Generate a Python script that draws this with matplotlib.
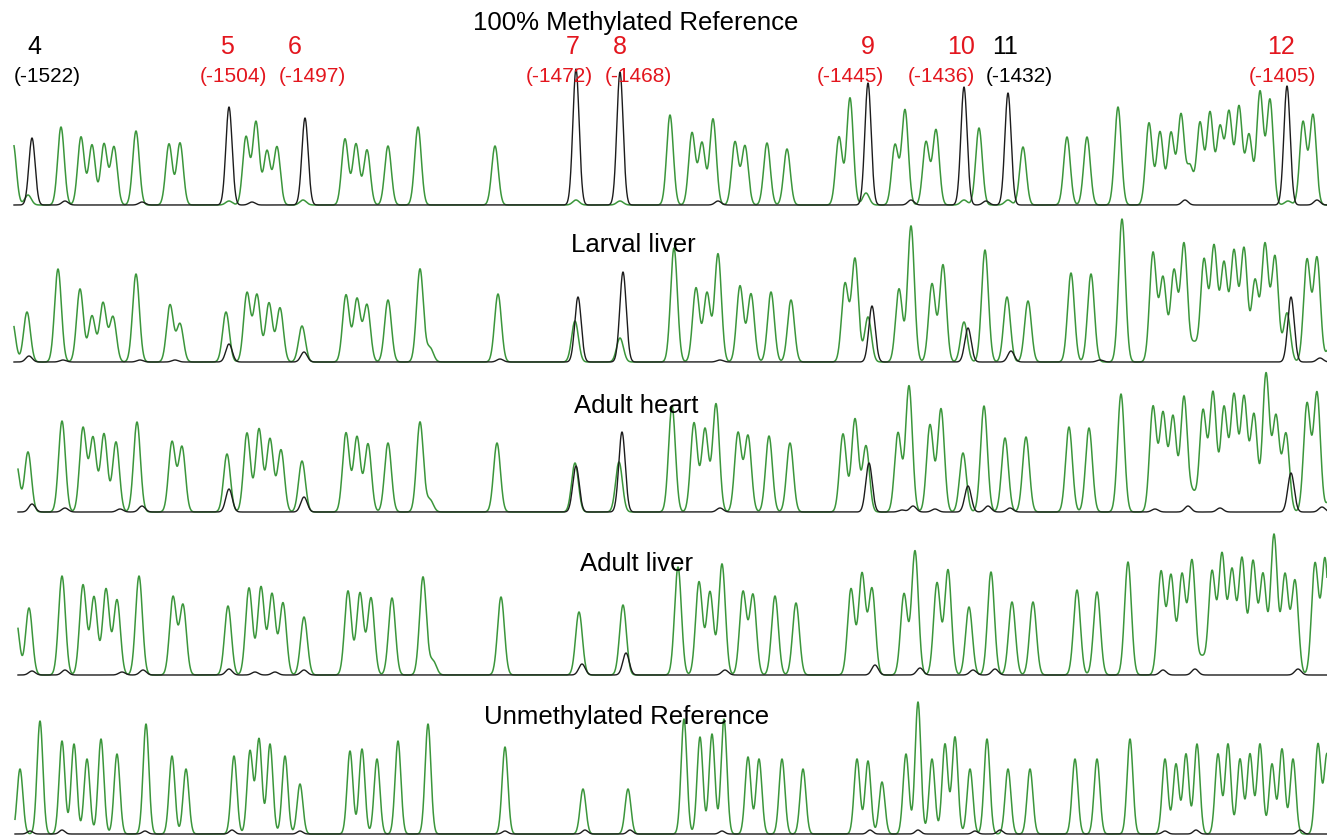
import numpy as np
import matplotlib
matplotlib.use("Agg")
import matplotlib.pyplot as plt

plt.rcParams['font.family'] = ['Liberation Sans', 'DejaVu Sans']

W, H = 1327, 839

# ---------------- data: peak positions (trace position) and heights ----------------
track_names = ["100% Methylated Reference", "Larval liver", "Adult heart",
               "Adult liver", "Unmethylated Reference"]

# Track 1: 100% methylated reference
g1_pos = [13, 28, 61, 81, 92, 104, 114, 136, 169, 180, 229, 246, 256, 267, 277, 303,
          345, 356, 367, 388, 418, 495, 576, 620, 670, 692, 702, 713, 735, 745, 767, 787,
          839, 850, 866, 895, 905, 926, 936, 964, 979, 1008, 1023, 1067, 1087, 1118, 1149,
          1160, 1171, 1181, 1190, 1200, 1210, 1220, 1229, 1239, 1249, 1260, 1270, 1288,
          1303, 1313]
g1_h = [62, 10, 78, 68, 60, 61, 58, 74, 61, 62, 4, 68, 83, 54, 58, 5,
        66, 61, 55, 59, 78, 59, 5, 4, 90, 72, 62, 86, 63, 59, 62, 56,
        68, 107, 12, 60, 95, 63, 75, 5, 77, 5, 58, 68, 68, 98, 82,
        73, 72, 90, 38, 82, 92, 77, 92, 98, 70, 113, 105, 4,
        83, 90]
b1_pos = [32, 65, 142, 229, 252, 305, 576, 620, 718, 868, 911, 964, 986, 1008, 1185,
          1287, 1317]
b1_h = [67, 4, 3, 98, 3, 87, 136, 133, 4, 122, 5, 118, 4, 112, 5, 119, 5]

# Track 2: larval liver
g2_pos = [12, 27, 58, 80, 92, 103, 113, 136, 170, 180, 226, 247, 257, 269, 280, 302,
          346, 357, 367, 388, 420, 430, 498, 575, 620, 674, 696, 707, 718, 740, 751, 771,
          791, 845, 855, 868, 899, 911, 932, 943, 964, 985, 1007, 1028, 1071, 1091, 1122,
          1153, 1163, 1174, 1184, 1194, 1204, 1214, 1224, 1234, 1244, 1255, 1265, 1275,
          1287, 1307, 1317, 1330]
g2_h = [42, 50, 93, 73, 46, 59, 45, 88, 57, 38, 50, 69, 67, 59, 54, 36,
        67, 63, 57, 62, 93, 14, 68, 41, 24, 114, 74, 69, 108, 76, 68, 70,
        62, 78, 103, 45, 73, 136, 78, 97, 40, 112, 65, 61, 89, 88, 143,
        109, 84, 91, 118, 18, 102, 115, 98, 110, 113, 81, 117, 105,
        49, 102, 104, 15]
b2_pos = [29, 63, 140, 175, 229, 304, 500, 578, 623, 720, 872, 968, 1011, 1100, 1291,
          1320]
b2_h = [6, 2, 2, 2, 18, 10, 3, 65, 90, 2, 56, 34, 11, 2, 65, 4]

# Track 3: adult heart
g3_pos = [16, 28, 62, 83, 93, 104, 116, 137, 172, 182, 227, 247, 259, 270, 281, 302,
          346, 357, 368, 388, 420, 430, 497, 575, 619, 672, 694, 705, 716, 738, 748, 769,
          790, 843, 855, 866, 898, 909, 930, 941, 963, 984, 1005, 1026, 1069, 1089, 1121,
          1153, 1163, 1173, 1184, 1193, 1203, 1213, 1224, 1234, 1244, 1254, 1266, 1276,
          1286, 1307, 1317, 1330]
g3_h = [50, 60, 91, 84, 74, 78, 70, 90, 70, 65, 58, 79, 83, 73, 62, 51,
        79, 75, 68, 69, 90, 12, 69, 49, 50, 106, 89, 83, 108, 79, 76, 76,
        69, 78, 93, 66, 79, 126, 87, 103, 59, 106, 74, 75, 85, 84, 118,
        105, 98, 95, 115, 18, 101, 119, 104, 116, 114, 97, 138, 95,
        78, 108, 119, 12]
b3_pos = [32, 65, 120, 142, 229, 304, 576, 622, 720, 869, 902, 913, 935, 968, 988,
          1010, 1155, 1188, 1220, 1291, 1322]
b3_h = [8, 4, 3, 6, 23, 15, 46, 80, 4, 49, 2, 6, 3, 26, 6, 4, 3, 6, 4, 39, 5]

# Track 4: adult liver
g4_pos = [16, 29, 62, 83, 94, 106, 117, 139, 173, 183, 228, 249, 261, 272, 283, 304,
          348, 360, 371, 392, 423, 433, 501, 579, 623, 678, 699, 710, 722, 743, 753, 775,
          796, 851, 862, 872, 904, 915, 937, 948, 969, 991, 1012, 1033, 1077, 1097, 1128,
          1161, 1171, 1182, 1192, 1202, 1212, 1222, 1232, 1242, 1253, 1263, 1274, 1285,
          1295, 1315, 1325]
g4_h = [55, 67, 99, 90, 78, 86, 75, 99, 78, 70, 69, 87, 88, 81, 72, 58,
        84, 82, 77, 77, 98, 14, 78, 63, 70, 108, 93, 83, 111, 83, 80, 79,
        72, 86, 101, 86, 81, 124, 92, 105, 68, 103, 73, 73, 85, 83, 113,
        103, 99, 100, 114, 17, 103, 120, 104, 116, 113, 100, 140, 100,
        94, 111, 116]
b4_pos = [32, 65, 122, 143, 229, 255, 275, 304, 582, 626, 725, 875, 920, 973, 995,
          1163, 1195, 1298]
b4_h = [4, 5, 3, 5, 6, 3, 3, 5, 11, 22, 5, 10, 7, 5, 6, 5, 6, 6]

# Track 5: unmethylated reference
g5_pos = [20, 40, 62, 74, 87, 101, 117, 146, 172, 186, 234, 250, 259, 270, 285, 300,
          350, 362, 377, 398, 428, 505, 583, 628, 684, 700, 712, 724, 748, 759, 782, 803,
          857, 868, 882, 906, 918, 932, 945, 955, 970, 987, 1008, 1030, 1075, 1097, 1130,
          1165, 1176, 1186, 1197, 1218, 1228, 1240, 1250, 1260, 1272, 1282, 1293, 1318,
          1327]
g5_h = [65, 113, 93, 90, 75, 95, 80, 110, 78, 65, 78, 83, 95, 90, 78, 50,
        83, 85, 75, 93, 110, 87, 45, 45, 115, 97, 100, 115, 77, 75, 75, 65,
        75, 73, 52, 80, 132, 75, 90, 97, 65, 95, 65, 65, 75, 75, 95,
        75, 70, 80, 90, 80, 90, 75, 80, 90, 70, 85, 75, 90,
        80]
b5_pos = [30, 62, 145, 232, 300, 505, 585, 630, 722, 870, 918, 975, 1000, 1165, 1196,
          1300]
b5_h = [3, 4, 3, 4, 3, 3, 4, 4, 3, 4, 4, 3, 4, 3, 4, 4]

green_tracks = [(g1_pos, g1_h), (g2_pos, g2_h), (g3_pos, g3_h), (g4_pos, g4_h), (g5_pos, g5_h)]
black_tracks = [(b1_pos, b1_h), (b2_pos, b2_h), (b3_pos, b3_h), (b4_pos, b4_h), (b5_pos, b5_h)]

# CpG site labels
site_nums = ["4", "5", "6", "7", "8", "9", "10", "11", "12"]
site_coords = ["(-1522)", "(-1504)", "(-1497)", "(-1472)", "(-1468)", "(-1445)",
               "(-1436)", "(-1432)", "(-1405)"]
site_methylated = [False, True, True, True, True, True, True, False, True]

# ---------------- layout / style ----------------
baselines = [205, 362, 512, 675, 834]   # pixel rows of track baselines
x_start = [14, 14, 18, 18, 15]
sigmas = [3.3, 3.4, 3.4, 3.4, 2.9]
num_x = [34, 227, 295, 573, 620, 868, 961, 1005, 1281]
coord_x = [47, 233, 312, 559, 638, 850, 941, 1019, 1282]
label_x = [636, 633, 636, 637, 627]
label_base = [30, 252, 413, 571, 724]
GREEN = "#3b963b"
RED = "#e3161e"


def trace(x, pos, h, s):
    pos = np.asarray(pos, float)[:, None]
    h = np.asarray(h, float)[:, None]
    return (h * np.exp(-0.5 * ((x[None, :] - pos) / s) ** 2)).sum(axis=0)


fig = plt.figure(figsize=(W / 100, H / 100), dpi=100)
pad = 6
span = 160
for k in range(5):
    bottom = (H - baselines[k] - pad) / H
    ax = fig.add_axes([0, bottom, 1, span / H])
    ax.set_xlim(0, W)
    ax.set_ylim(-pad, span - pad)
    ax.axis("off")
    x = np.arange(x_start[k], W + 0.01, 0.25)
    gp, gh = green_tracks[k]
    bp, bh = black_tracks[k]
    ax.plot(x, trace(x, gp, gh, sigmas[k]), color=GREEN, lw=1.1, zorder=2)
    ax.plot(x, trace(x, bp, bh, sigmas[k] * 0.95), color="#1c1c1c", lw=1.0, zorder=3)


def fx(px):
    return px / W


def fy(py):
    return 1 - py / H


for k in range(5):
    fig.text(fx(label_x[k]), fy(label_base[k]), track_names[k], ha="center",
             va="baseline", fontsize=18.5, color="black", zorder=10)

for i in range(len(site_nums)):
    c = RED if site_methylated[i] else "black"
    fig.text(fx(num_x[i]), fy(54), site_nums[i], ha="center", va="baseline",
             fontsize=18, color=c)
    fig.text(fx(coord_x[i]), fy(82), site_coords[i], ha="center", va="baseline",
             fontsize=15, color=c)

fig.savefig("out.png", dpi=100)
